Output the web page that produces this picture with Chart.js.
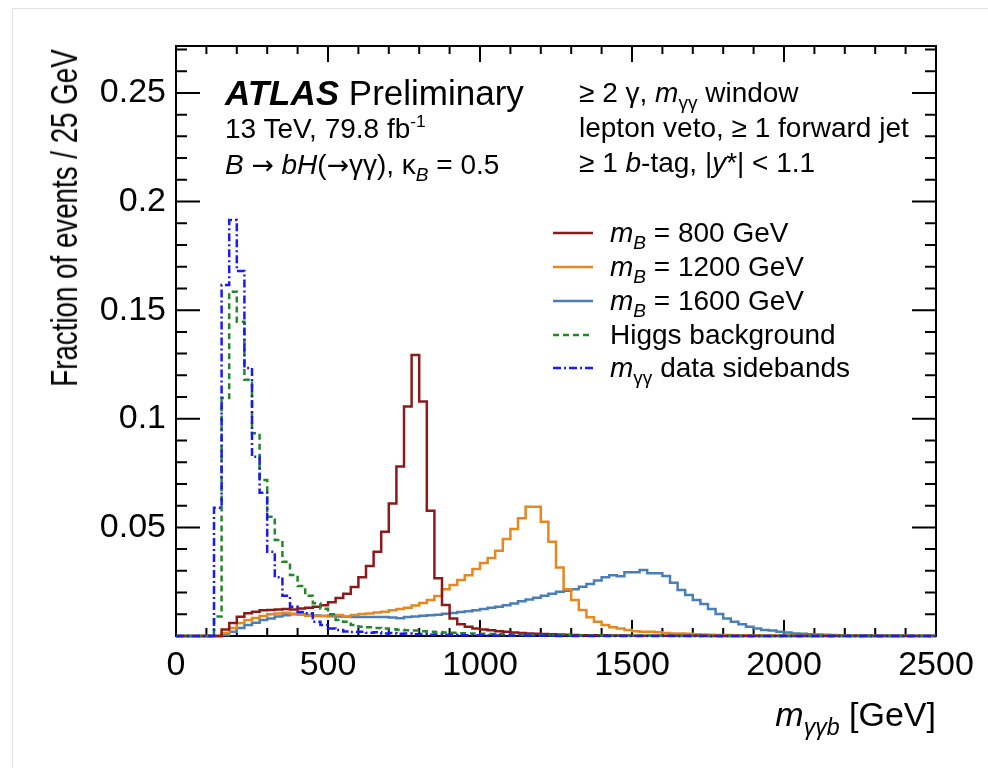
<!DOCTYPE html>
<html>
<head>
<meta charset="utf-8">
<script src="https://cdn.jsdelivr.net/npm/chart.js@4.4.1/dist/chart.umd.min.js"></script>
<style>
  html, body { margin: 0; padding: 0; background: #fff; }
  #wrap { position: relative; width: 988px; height: 768px; overflow: hidden;
          font-family: "Liberation Sans", Arial, Helvetica, sans-serif; color: #000; }
  #frame { position: absolute; left: 12px; top: 8px; width: 990px; height: 780px;
           border-left: 1px solid #e2e2e2; border-top: 1px solid #e2e2e2; }
  #c { position: absolute; left: 0; top: 0; }
  .t { position: absolute; white-space: nowrap; line-height: 1; }
  .s28 { font-size: 28px; }
  .ar { font-family: "DejaVu Sans", sans-serif; font-size: 0.95em; }
  sub { font-size: 0.68em; vertical-align: -0.38em; line-height: 0; }
  sup { font-size: 0.62em; vertical-align: 0.62em; line-height: 0; }
  .leg { position: absolute; left: 553px; width: 40px; height: 8px; }
</style>
</head>
<body>
<div id="wrap">
  <div id="frame"></div>
  <canvas id="c" width="988" height="768"></canvas>

  <div class="t" id="ytitle" style="left:65px; top:218px; font-size:36px; transform: translate(-50%,-50%) rotate(-90deg) scaleX(0.77);">Fraction of events / 25 GeV</div>
  <div class="t" style="right:52px; top:697px; font-size:34px;"><i>m</i><sub><i>&gamma;&gamma;b</i></sub> [GeV]</div>

  <div class="t" style="left:225px; top:75px; font-size:35px;"><b><i>ATLAS</i></b> Preliminary</div>
  <div class="t s28" style="left:225px; top:115px;">13 TeV, 79.8 fb<sup>-1</sup></div>
  <div class="t s28" style="left:225px; top:151px;"><i>B</i> <span class="ar">&rarr;</span> <i>bH</i>(<span class="ar">&rarr;</span>&gamma;&gamma;), &kappa;<sub><i>B</i></sub> = 0.5</div>

  <div class="t s28" style="left:579px; top:79px;">&ge; 2 &gamma;, <i>m</i><sub>&gamma;&gamma;</sub> window</div>
  <div class="t s28" style="left:579px; top:114px;">lepton veto, &ge; 1 forward jet</div>
  <div class="t s28" style="left:579px; top:149px;">&ge; 1 <i>b</i>-tag, |<i>y</i>*| &lt; 1.1</div>

  <svg class="leg" style="top:229px" viewBox="0 0 40 8"><line x1="0" y1="4" x2="40" y2="4" stroke="#8b1a1a" stroke-width="2.5"/></svg>
  <svg class="leg" style="top:263px" viewBox="0 0 40 8"><line x1="0" y1="4" x2="40" y2="4" stroke="#e6871f" stroke-width="2.5"/></svg>
  <svg class="leg" style="top:297px" viewBox="0 0 40 8"><line x1="0" y1="4" x2="40" y2="4" stroke="#4a7fb5" stroke-width="2.5"/></svg>
  <svg class="leg" style="top:331px" viewBox="0 0 40 8"><line x1="0" y1="4" x2="40" y2="4" stroke="#23862a" stroke-width="2.5" stroke-dasharray="6 4"/></svg>
  <svg class="leg" style="top:364px" viewBox="0 0 40 8"><line x1="0" y1="4" x2="40" y2="4" stroke="#1a1af5" stroke-width="2.5" stroke-dasharray="8 3 2 3"/></svg>

  <div class="t s28" style="left:610px; top:219px;"><i>m</i><sub><i>B</i></sub> = 800 GeV</div>
  <div class="t s28" style="left:610px; top:253px;"><i>m</i><sub><i>B</i></sub> = 1200 GeV</div>
  <div class="t s28" style="left:610px; top:287px;"><i>m</i><sub><i>B</i></sub> = 1600 GeV</div>
  <div class="t s28" style="left:610px; top:321px;">Higgs background</div>
  <div class="t s28" style="left:610px; top:354px;"><i>m</i><sub>&gamma;&gamma;</sub> data sidebands</div>
</div>

<script>
// ---------------- data ----------------
// 100 bins of 25 GeV from 0 to 2500 GeV (lower bin edges + final upper edge)
const binWidth = 25;
const binEdges = Array.from({ length: 101 }, (_, i) => i * binWidth);

const xTickLabels = [0, 500, 1000, 1500, 2000, 2500];
const yTickLabels = [0.05, 0.1, 0.15, 0.2, 0.25];

// Fraction of events per bin
const mB800 = [
  0, 0, 0, 0, 0, 0, 0.0030, 0.0060, 0.0089, 0.0105,
  0.0112, 0.0118, 0.0120, 0.0122, 0.0124, 0.0122, 0.0127, 0.0130, 0.0135, 0.0142,
  0.0155, 0.0175, 0.0195, 0.0225, 0.0270, 0.0322, 0.0388, 0.0480, 0.0610, 0.0780,
  0.1056, 0.1294, 0.1079, 0.0577, 0.0266, 0.0143, 0.0081, 0.0054, 0.0043, 0.0035,
  0.0030, 0.0026, 0.0022, 0.0019, 0.0016, 0.0014, 0.0012, 0.0010, 0.0009, 0.0008,
  0.0007, 0.0006, 0.0005, 0.0004, 0.0004, 0.0003, 0.0003, 0.0002, 0.0002, 0.0002,
  0.0001, 0.0001, 0.0001, 0.0001, 0.0001, 0.0001, 0.0001, 0.0001, 0.0001, 0.0001,
  0, 0, 0, 0, 0, 0, 0, 0, 0, 0,
  0, 0, 0, 0, 0, 0, 0, 0, 0, 0,
  0, 0, 0, 0, 0, 0, 0, 0, 0, 0
];

const mB1200 = [
  0, 0, 0, 0, 0, 0, 0.0014, 0.0037, 0.0060, 0.0074,
  0.0083, 0.0092, 0.0100, 0.0104, 0.0107, 0.0103, 0.0098, 0.0093, 0.0092, 0.0092,
  0.0096, 0.0097, 0.0090, 0.0097, 0.0101, 0.0104, 0.0108, 0.0112, 0.0118, 0.0124,
  0.0130, 0.0140, 0.0152, 0.0166, 0.0184, 0.0215, 0.0235, 0.0258, 0.0280, 0.0308,
  0.0336, 0.0359, 0.0393, 0.0447, 0.0493, 0.0542, 0.0595, 0.0595, 0.0526, 0.0434,
  0.0315, 0.0215, 0.0166, 0.0120, 0.0086, 0.0066, 0.0051, 0.0040, 0.0034, 0.0028,
  0.0022, 0.0020, 0.0019, 0.0017, 0.0014, 0.0012, 0.0011, 0.0010, 0.0008, 0.0007,
  0.0006, 0.0005, 0.0005, 0.0004, 0.0004, 0.0003, 0.0003, 0.0002, 0.0002, 0.0002,
  0.0002, 0.0001, 0.0001, 0.0001, 0.0001, 0.0001, 0.0001, 0.0001, 0.0001, 0.0001,
  0, 0, 0, 0, 0, 0, 0, 0, 0, 0
];

const mB1600 = [
  0, 0, 0, 0, 0, 0, 0.0005, 0.0020, 0.0037, 0.0051,
  0.0061, 0.0074, 0.0081, 0.0090, 0.0096, 0.0100, 0.0100, 0.0097, 0.0094, 0.0092,
  0.0091, 0.0090, 0.0089, 0.0088, 0.0088, 0.0087, 0.0087, 0.0088, 0.0085, 0.0082,
  0.0088, 0.0090, 0.0093, 0.0095, 0.0098, 0.0102, 0.0106, 0.0110, 0.0114, 0.0119,
  0.0124, 0.0130, 0.0135, 0.0142, 0.0150, 0.0160, 0.0168, 0.0176, 0.0185, 0.0195,
  0.0204, 0.0208, 0.0215, 0.0227, 0.0239, 0.0255, 0.0270, 0.0280, 0.0275, 0.0293,
  0.0293, 0.0304, 0.0289, 0.0289, 0.0276, 0.0245, 0.0212, 0.0189, 0.0166, 0.0147,
  0.0124, 0.0101, 0.0081, 0.0066, 0.0054, 0.0043, 0.0035, 0.0028, 0.0025, 0.0020,
  0.0016, 0.0012, 0.0010, 0.0008, 0.0007, 0.0006, 0.0005, 0.0004, 0.0004, 0.0003,
  0.0003, 0.0002, 0.0002, 0.0002, 0.0002, 0.0002, 0.0001, 0.0001, 0.0001, 0.0001
];

const higgsBkg = [
  0, 0, 0, 0, 0, 0.0090, 0.1096, 0.1585, 0.1447, 0.1180,
  0.0933, 0.0718, 0.0549, 0.0442, 0.0342, 0.0281, 0.0230, 0.0185, 0.0151, 0.0125,
  0.0100, 0.0074, 0.0066, 0.0051, 0.0043, 0.0040, 0.0037, 0.0034, 0.0031, 0.0029,
  0.0027, 0.0025, 0.0022, 0.0020, 0.0018, 0.0016, 0.0015, 0.0013, 0.0012, 0.0011,
  0.0010, 0.0009, 0.0008, 0.0007, 0.0006, 0.0006, 0.0005, 0.0005, 0.0004, 0.0004,
  0.0003, 0.0003, 0.0003, 0.0002, 0.0002, 0.0002, 0.0002, 0.0001, 0.0001, 0.0001,
  0.0001, 0.0001, 0.0001, 0.0001, 0.0001, 0.0001, 0, 0, 0, 0,
  0, 0, 0, 0, 0, 0, 0, 0, 0, 0,
  0, 0, 0, 0, 0, 0, 0, 0, 0, 0,
  0, 0, 0, 0, 0, 0, 0, 0, 0, 0
];

const dataSidebands = [
  0, 0, 0, 0, 0, 0.0590, 0.1616, 0.1915, 0.1680, 0.1234,
  0.0825, 0.0660, 0.0388, 0.0270, 0.0185, 0.0135, 0.0110, 0.0105, 0.0066, 0.0051,
  0.0035, 0.0028, 0.0021, 0.0018, 0.0020, 0.0015, 0.0017, 0.0012, 0.0014, 0.0010,
  0.0011, 0.0008, 0.0009, 0.0006, 0.0007, 0.0005, 0.0006, 0.0004, 0.0004, 0.0003,
  0.0003, 0.0002, 0.0002, 0.0002, 0.0001, 0.0002, 0.0001, 0.0001, 0.0001, 0.0001,
  0, 0, 0, 0, 0, 0, 0, 0, 0, 0,
  0, 0, 0, 0, 0, 0, 0, 0, 0, 0,
  0, 0, 0, 0, 0, 0, 0, 0, 0, 0,
  0, 0, 0, 0, 0, 0, 0, 0, 0, 0,
  0, 0, 0, 0, 0, 0, 0, 0, 0, 0
];

// -------------- helpers --------------
function histPoints(values) {
  const pts = values.map((v, i) => ({ x: binEdges[i], y: v }));
  pts.push({ x: binEdges[values.length], y: values[values.length - 1] });
  return pts;
}

const FONT = '"Liberation Sans", Arial, Helvetica, sans-serif';

const frameTicks = {
  id: 'frameTicks',
  beforeDatasetsDraw(chart) {
    const { ctx, chartArea: a, scales: { x, y } } = chart;
    ctx.save();
    ctx.strokeStyle = '#000';
    ctx.lineWidth = 2;
    ctx.beginPath();
    for (let v = 0; v <= 2500; v += 100) {
      const px = x.getPixelForValue(v);
      const L = (v % 500 === 0) ? 16 : 8;
      ctx.moveTo(px, a.bottom); ctx.lineTo(px, a.bottom - L);
      ctx.moveTo(px, a.top); ctx.lineTo(px, a.top + L);
    }
    for (let k = 1; k <= 27; k++) {
      const py = y.getPixelForValue(k / 100);
      const L = (k % 5 === 0) ? 24 : 11;
      ctx.moveTo(a.left, py); ctx.lineTo(a.left + L, py);
      ctx.moveTo(a.right, py); ctx.lineTo(a.right - L, py);
    }
    ctx.stroke();
    ctx.strokeRect(a.left, a.top, a.right - a.left, a.bottom - a.top);
    ctx.restore();
  }
};

function ds(label, values, color, dash) {
  return {
    label,
    data: histPoints(values),
    borderColor: color,
    backgroundColor: color,
    borderWidth: 2.5,
    borderDash: dash || [],
    stepped: 'before',
    pointRadius: 0,
    fill: false,
    clip: 3
  };
}

new Chart(document.getElementById('c'), {
  type: 'line',
  data: {
    datasets: [
      ds('m_γγ data sidebands', dataSidebands, '#1a1af5', [8, 3, 2, 3]),
      ds('Higgs background', higgsBkg, '#23862a', [6, 4]),
      ds('m_B = 800 GeV', mB800, '#8b1a1a'),
      ds('m_B = 1200 GeV', mB1200, '#e6871f'),
      ds('m_B = 1600 GeV', mB1600, '#4a7fb5')
    ]
  },
  options: {
    responsive: false,
    animation: false,
    devicePixelRatio: 1,
    layout: { padding: { left: 0, top: 46, right: 52, bottom: 0 } },
    plugins: { legend: { display: false }, tooltip: { enabled: false } },
    scales: {
      x: {
        type: 'linear', min: 0, max: 2500,
        grid: { display: false, drawTicks: false },
        border: { display: false },
        ticks: {
          stepSize: 500, padding: 9, color: '#000', maxRotation: 0, autoSkip: false,
          font: { family: FONT, size: 34 },
          callback: v => xTickLabels.includes(v) ? String(v) : ''
        },
        afterFit(s) { s.height = 768 - 636; }
      },
      y: {
        type: 'linear', min: 0, max: 0.2716,
        grid: { display: false, drawTicks: false },
        border: { display: false },
        ticks: {
          stepSize: 0.05, includeBounds: false, padding: 10, color: '#000',
          font: { family: FONT, size: 34 },
          callback: v => {
            const r = Math.round(v * 100) / 100;
            return yTickLabels.includes(r) ? String(r) : '';
          }
        },
        afterFit(s) { s.width = 176; }
      }
    }
  },
  plugins: [frameTicks]
});
</script>
</body>
</html>
